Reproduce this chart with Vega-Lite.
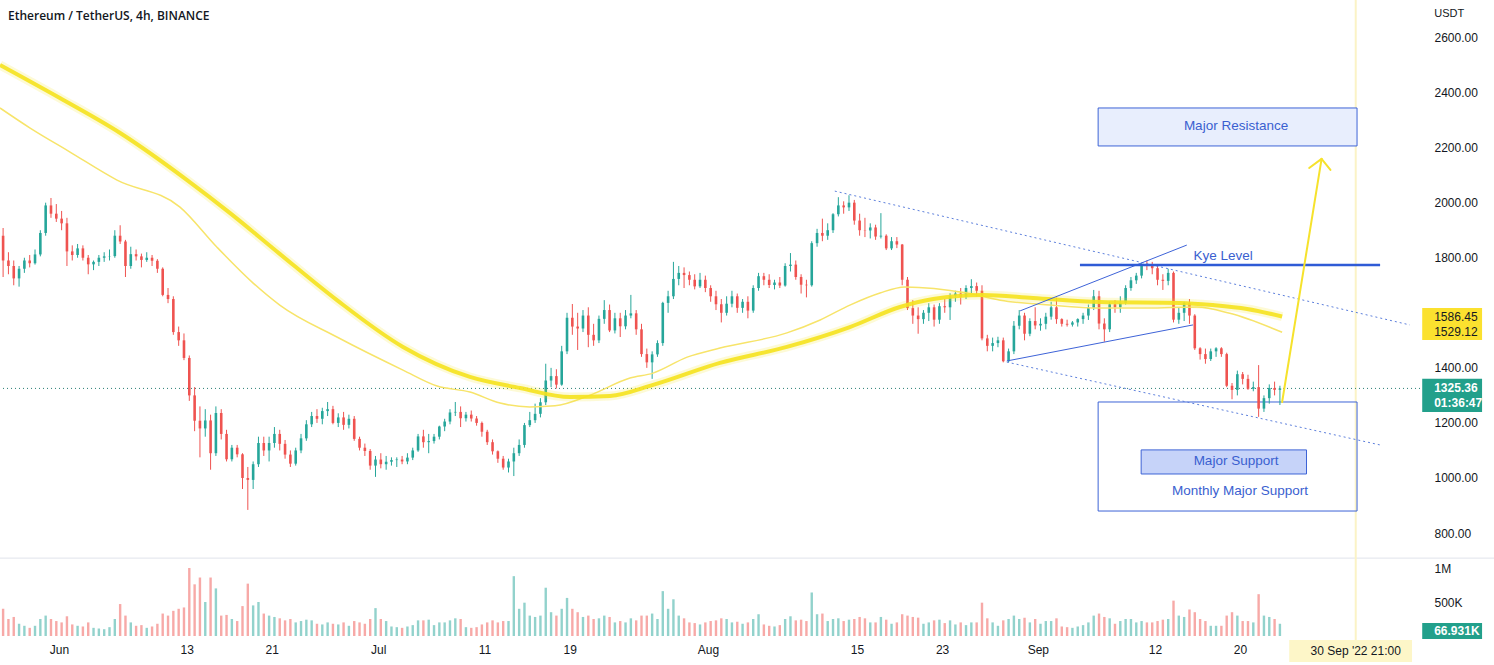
{
"$schema":"https://vega.github.io/schema/vega-lite/v6.json",
"width":1420,"height":640,
"autosize":{"type":"none"},
"padding":{"left":0,"top":0,"right":74,"bottom":25},
"background":"#ffffff",
"config":{"view":{"stroke":null},"font":"Liberation Sans","axis":{"grid":false,"domain":false,"ticks":false}},
"datasets":{
"candles":[
{"t":"2022-05-26T18:00Z","o":1880,"h":1908,"l":1730,"c":1790,"v":400000},
{"t":"2022-05-27T06:00Z","o":1790,"h":1820,"l":1740,"c":1770,"v":250000},
{"t":"2022-05-27T18:00Z","o":1770,"h":1790,"l":1700,"c":1725,"v":280000},
{"t":"2022-05-28T06:00Z","o":1725,"h":1770,"l":1695,"c":1760,"v":180000},
{"t":"2022-05-28T18:00Z","o":1760,"h":1800,"l":1745,"c":1790,"v":150000},
{"t":"2022-05-29T06:00Z","o":1790,"h":1810,"l":1765,"c":1780,"v":120000},
{"t":"2022-05-29T18:00Z","o":1780,"h":1830,"l":1775,"c":1812,"v":150000},
{"t":"2022-05-30T06:00Z","o":1812,"h":1900,"l":1805,"c":1890,"v":250000},
{"t":"2022-05-30T18:00Z","o":1890,"h":2000,"l":1880,"c":1990,"v":300000},
{"t":"2022-05-31T06:00Z","o":1990,"h":2017,"l":1945,"c":1960,"v":250000},
{"t":"2022-05-31T18:00Z","o":1960,"h":1995,"l":1930,"c":1942,"v":220000},
{"t":"2022-06-01T06:00Z","o":1942,"h":1970,"l":1900,"c":1925,"v":200000},
{"t":"2022-06-01T18:00Z","o":1925,"h":1945,"l":1770,"c":1823,"v":290000},
{"t":"2022-06-02T06:00Z","o":1823,"h":1845,"l":1790,"c":1810,"v":170000},
{"t":"2022-06-02T18:00Z","o":1810,"h":1850,"l":1800,"c":1834,"v":150000},
{"t":"2022-06-03T06:00Z","o":1834,"h":1845,"l":1790,"c":1800,"v":140000},
{"t":"2022-06-03T18:00Z","o":1800,"h":1810,"l":1740,"c":1776,"v":200000},
{"t":"2022-06-04T06:00Z","o":1776,"h":1790,"l":1755,"c":1785,"v":120000},
{"t":"2022-06-04T18:00Z","o":1785,"h":1810,"l":1770,"c":1800,"v":110000},
{"t":"2022-06-05T06:00Z","o":1800,"h":1820,"l":1785,"c":1805,"v":100000},
{"t":"2022-06-05T18:00Z","o":1805,"h":1830,"l":1790,"c":1806,"v":130000},
{"t":"2022-06-06T06:00Z","o":1806,"h":1900,"l":1800,"c":1880,"v":250000},
{"t":"2022-06-06T18:00Z","o":1880,"h":1918,"l":1850,"c":1859,"v":470000},
{"t":"2022-06-07T06:00Z","o":1859,"h":1865,"l":1730,"c":1770,"v":300000},
{"t":"2022-06-07T18:00Z","o":1770,"h":1840,"l":1760,"c":1813,"v":200000},
{"t":"2022-06-08T06:00Z","o":1813,"h":1830,"l":1790,"c":1805,"v":150000},
{"t":"2022-06-08T18:00Z","o":1805,"h":1815,"l":1765,"c":1792,"v":160000},
{"t":"2022-06-09T06:00Z","o":1792,"h":1820,"l":1785,"c":1800,"v":120000},
{"t":"2022-06-09T18:00Z","o":1800,"h":1810,"l":1770,"c":1789,"v":140000},
{"t":"2022-06-10T06:00Z","o":1789,"h":1795,"l":1745,"c":1760,"v":180000},
{"t":"2022-06-10T18:00Z","o":1760,"h":1765,"l":1660,"c":1665,"v":330000},
{"t":"2022-06-11T06:00Z","o":1665,"h":1690,"l":1635,"c":1650,"v":300000},
{"t":"2022-06-11T18:00Z","o":1650,"h":1660,"l":1520,"c":1530,"v":370000},
{"t":"2022-06-12T06:00Z","o":1530,"h":1550,"l":1480,"c":1500,"v":400000},
{"t":"2022-06-12T18:00Z","o":1500,"h":1525,"l":1428,"c":1436,"v":420000},
{"t":"2022-06-13T06:00Z","o":1436,"h":1445,"l":1280,"c":1300,"v":1000000},
{"t":"2022-06-13T18:00Z","o":1300,"h":1330,"l":1170,"c":1208,"v":760000},
{"t":"2022-06-14T06:00Z","o":1208,"h":1260,"l":1075,"c":1180,"v":860000},
{"t":"2022-06-14T18:00Z","o":1180,"h":1250,"l":1150,"c":1209,"v":500000},
{"t":"2022-06-15T06:00Z","o":1209,"h":1230,"l":1030,"c":1090,"v":860000},
{"t":"2022-06-15T18:00Z","o":1090,"h":1260,"l":1080,"c":1236,"v":700000},
{"t":"2022-06-16T06:00Z","o":1236,"h":1250,"l":1140,"c":1160,"v":300000},
{"t":"2022-06-16T18:00Z","o":1160,"h":1175,"l":1060,"c":1068,"v":310000},
{"t":"2022-06-17T06:00Z","o":1068,"h":1120,"l":1060,"c":1110,"v":250000},
{"t":"2022-06-17T18:00Z","o":1110,"h":1120,"l":1075,"c":1086,"v":220000},
{"t":"2022-06-18T06:00Z","o":1086,"h":1090,"l":960,"c":1000,"v":440000},
{"t":"2022-06-18T18:00Z","o":1000,"h":1040,"l":884,"c":993,"v":770000},
{"t":"2022-06-19T06:00Z","o":993,"h":1060,"l":960,"c":1050,"v":450000},
{"t":"2022-06-19T18:00Z","o":1050,"h":1150,"l":1040,"c":1127,"v":500000},
{"t":"2022-06-20T06:00Z","o":1127,"h":1150,"l":1080,"c":1100,"v":330000},
{"t":"2022-06-20T18:00Z","o":1100,"h":1150,"l":1060,"c":1127,"v":300000},
{"t":"2022-06-21T06:00Z","o":1127,"h":1185,"l":1110,"c":1160,"v":280000},
{"t":"2022-06-21T18:00Z","o":1160,"h":1175,"l":1100,"c":1124,"v":260000},
{"t":"2022-06-22T06:00Z","o":1124,"h":1138,"l":1070,"c":1085,"v":230000},
{"t":"2022-06-22T18:00Z","o":1085,"h":1100,"l":1040,"c":1052,"v":250000},
{"t":"2022-06-23T06:00Z","o":1052,"h":1110,"l":1045,"c":1100,"v":200000},
{"t":"2022-06-23T18:00Z","o":1100,"h":1160,"l":1090,"c":1144,"v":220000},
{"t":"2022-06-24T06:00Z","o":1144,"h":1210,"l":1135,"c":1195,"v":240000},
{"t":"2022-06-24T18:00Z","o":1195,"h":1240,"l":1185,"c":1225,"v":230000},
{"t":"2022-06-25T06:00Z","o":1225,"h":1250,"l":1200,"c":1215,"v":180000},
{"t":"2022-06-25T18:00Z","o":1215,"h":1255,"l":1195,"c":1243,"v":170000},
{"t":"2022-06-26T06:00Z","o":1243,"h":1276,"l":1225,"c":1250,"v":200000},
{"t":"2022-06-26T18:00Z","o":1250,"h":1262,"l":1195,"c":1200,"v":180000},
{"t":"2022-06-27T06:00Z","o":1200,"h":1235,"l":1185,"c":1220,"v":170000},
{"t":"2022-06-27T18:00Z","o":1220,"h":1240,"l":1175,"c":1193,"v":200000},
{"t":"2022-06-28T06:00Z","o":1193,"h":1230,"l":1180,"c":1215,"v":150000},
{"t":"2022-06-28T18:00Z","o":1215,"h":1225,"l":1135,"c":1142,"v":220000},
{"t":"2022-06-29T06:00Z","o":1142,"h":1150,"l":1100,"c":1110,"v":200000},
{"t":"2022-06-29T18:00Z","o":1110,"h":1125,"l":1080,"c":1098,"v":180000},
{"t":"2022-06-30T06:00Z","o":1098,"h":1105,"l":1030,"c":1045,"v":250000},
{"t":"2022-06-30T18:00Z","o":1045,"h":1080,"l":1004,"c":1067,"v":410000},
{"t":"2022-07-01T06:00Z","o":1067,"h":1090,"l":1035,"c":1050,"v":250000},
{"t":"2022-07-01T18:00Z","o":1050,"h":1080,"l":1030,"c":1059,"v":220000},
{"t":"2022-07-02T06:00Z","o":1059,"h":1075,"l":1045,"c":1065,"v":140000},
{"t":"2022-07-02T18:00Z","o":1065,"h":1075,"l":1040,"c":1067,"v":130000},
{"t":"2022-07-03T06:00Z","o":1067,"h":1080,"l":1050,"c":1060,"v":120000},
{"t":"2022-07-03T18:00Z","o":1060,"h":1090,"l":1050,"c":1074,"v":140000},
{"t":"2022-07-04T06:00Z","o":1074,"h":1110,"l":1065,"c":1100,"v":160000},
{"t":"2022-07-04T18:00Z","o":1100,"h":1160,"l":1095,"c":1151,"v":230000},
{"t":"2022-07-05T06:00Z","o":1151,"h":1175,"l":1110,"c":1130,"v":230000},
{"t":"2022-07-05T18:00Z","o":1130,"h":1160,"l":1090,"c":1134,"v":240000},
{"t":"2022-07-06T06:00Z","o":1134,"h":1160,"l":1125,"c":1150,"v":160000},
{"t":"2022-07-06T18:00Z","o":1150,"h":1190,"l":1140,"c":1187,"v":200000},
{"t":"2022-07-07T06:00Z","o":1187,"h":1215,"l":1170,"c":1205,"v":200000},
{"t":"2022-07-07T18:00Z","o":1205,"h":1250,"l":1195,"c":1238,"v":230000},
{"t":"2022-07-08T06:00Z","o":1238,"h":1276,"l":1225,"c":1240,"v":260000},
{"t":"2022-07-08T18:00Z","o":1240,"h":1260,"l":1185,"c":1217,"v":250000},
{"t":"2022-07-09T06:00Z","o":1217,"h":1240,"l":1205,"c":1230,"v":130000},
{"t":"2022-07-09T18:00Z","o":1230,"h":1245,"l":1205,"c":1216,"v":120000},
{"t":"2022-07-10T06:00Z","o":1216,"h":1225,"l":1190,"c":1200,"v":130000},
{"t":"2022-07-10T18:00Z","o":1200,"h":1205,"l":1150,"c":1168,"v":170000},
{"t":"2022-07-11T06:00Z","o":1168,"h":1175,"l":1120,"c":1130,"v":200000},
{"t":"2022-07-11T18:00Z","o":1130,"h":1140,"l":1085,"c":1097,"v":230000},
{"t":"2022-07-12T06:00Z","o":1097,"h":1100,"l":1055,"c":1070,"v":200000},
{"t":"2022-07-12T18:00Z","o":1070,"h":1080,"l":1030,"c":1038,"v":220000},
{"t":"2022-07-13T06:00Z","o":1038,"h":1070,"l":1020,"c":1060,"v":220000},
{"t":"2022-07-13T18:00Z","o":1060,"h":1110,"l":1007,"c":1090,"v":880000},
{"t":"2022-07-14T06:00Z","o":1090,"h":1140,"l":1080,"c":1120,"v":400000},
{"t":"2022-07-14T18:00Z","o":1120,"h":1200,"l":1110,"c":1192,"v":490000},
{"t":"2022-07-15T06:00Z","o":1192,"h":1240,"l":1185,"c":1210,"v":300000},
{"t":"2022-07-15T18:00Z","o":1210,"h":1270,"l":1200,"c":1233,"v":280000},
{"t":"2022-07-16T06:00Z","o":1233,"h":1290,"l":1220,"c":1275,"v":300000},
{"t":"2022-07-16T18:00Z","o":1275,"h":1415,"l":1265,"c":1354,"v":710000},
{"t":"2022-07-17T06:00Z","o":1354,"h":1400,"l":1330,"c":1370,"v":350000},
{"t":"2022-07-17T18:00Z","o":1370,"h":1395,"l":1325,"c":1339,"v":300000},
{"t":"2022-07-18T06:00Z","o":1339,"h":1480,"l":1335,"c":1460,"v":400000},
{"t":"2022-07-18T18:00Z","o":1460,"h":1600,"l":1450,"c":1582,"v":560000},
{"t":"2022-07-19T06:00Z","o":1582,"h":1632,"l":1520,"c":1550,"v":400000},
{"t":"2022-07-19T18:00Z","o":1550,"h":1600,"l":1465,"c":1543,"v":350000},
{"t":"2022-07-20T06:00Z","o":1543,"h":1610,"l":1530,"c":1590,"v":280000},
{"t":"2022-07-20T18:00Z","o":1590,"h":1620,"l":1475,"c":1520,"v":300000},
{"t":"2022-07-21T06:00Z","o":1520,"h":1560,"l":1480,"c":1500,"v":250000},
{"t":"2022-07-21T18:00Z","o":1500,"h":1590,"l":1490,"c":1578,"v":260000},
{"t":"2022-07-22T06:00Z","o":1578,"h":1646,"l":1560,"c":1610,"v":300000},
{"t":"2022-07-22T18:00Z","o":1610,"h":1630,"l":1530,"c":1536,"v":280000},
{"t":"2022-07-23T06:00Z","o":1536,"h":1600,"l":1525,"c":1580,"v":200000},
{"t":"2022-07-23T18:00Z","o":1580,"h":1600,"l":1512,"c":1551,"v":220000},
{"t":"2022-07-24T06:00Z","o":1551,"h":1610,"l":1540,"c":1590,"v":200000},
{"t":"2022-07-24T18:00Z","o":1590,"h":1665,"l":1580,"c":1598,"v":260000},
{"t":"2022-07-25T06:00Z","o":1598,"h":1610,"l":1520,"c":1540,"v":230000},
{"t":"2022-07-25T18:00Z","o":1540,"h":1560,"l":1440,"c":1450,"v":300000},
{"t":"2022-07-26T06:00Z","o":1450,"h":1470,"l":1400,"c":1420,"v":300000},
{"t":"2022-07-26T18:00Z","o":1420,"h":1460,"l":1360,"c":1449,"v":330000},
{"t":"2022-07-27T06:00Z","o":1449,"h":1500,"l":1440,"c":1490,"v":250000},
{"t":"2022-07-27T18:00Z","o":1490,"h":1640,"l":1480,"c":1636,"v":660000},
{"t":"2022-07-28T06:00Z","o":1636,"h":1680,"l":1600,"c":1660,"v":400000},
{"t":"2022-07-28T18:00Z","o":1660,"h":1785,"l":1650,"c":1723,"v":540000},
{"t":"2022-07-29T06:00Z","o":1723,"h":1770,"l":1700,"c":1745,"v":300000},
{"t":"2022-07-29T18:00Z","o":1745,"h":1765,"l":1690,"c":1737,"v":260000},
{"t":"2022-07-30T06:00Z","o":1737,"h":1750,"l":1700,"c":1720,"v":200000},
{"t":"2022-07-30T18:00Z","o":1720,"h":1740,"l":1685,"c":1696,"v":190000},
{"t":"2022-07-31T06:00Z","o":1696,"h":1745,"l":1690,"c":1720,"v":170000},
{"t":"2022-07-31T18:00Z","o":1720,"h":1735,"l":1675,"c":1690,"v":200000},
{"t":"2022-08-01T06:00Z","o":1690,"h":1700,"l":1640,"c":1660,"v":220000},
{"t":"2022-08-01T18:00Z","o":1660,"h":1680,"l":1610,"c":1631,"v":230000},
{"t":"2022-08-02T06:00Z","o":1631,"h":1650,"l":1565,"c":1600,"v":260000},
{"t":"2022-08-02T18:00Z","o":1600,"h":1660,"l":1590,"c":1633,"v":250000},
{"t":"2022-08-03T06:00Z","o":1633,"h":1680,"l":1620,"c":1660,"v":200000},
{"t":"2022-08-03T18:00Z","o":1660,"h":1670,"l":1600,"c":1618,"v":210000},
{"t":"2022-08-04T06:00Z","o":1618,"h":1650,"l":1600,"c":1640,"v":180000},
{"t":"2022-08-04T18:00Z","o":1640,"h":1660,"l":1580,"c":1608,"v":200000},
{"t":"2022-08-05T06:00Z","o":1608,"h":1700,"l":1600,"c":1690,"v":250000},
{"t":"2022-08-05T18:00Z","o":1690,"h":1745,"l":1680,"c":1733,"v":320000},
{"t":"2022-08-06T06:00Z","o":1733,"h":1745,"l":1700,"c":1720,"v":170000},
{"t":"2022-08-06T18:00Z","o":1720,"h":1740,"l":1690,"c":1701,"v":150000},
{"t":"2022-08-07T06:00Z","o":1701,"h":1720,"l":1685,"c":1710,"v":140000},
{"t":"2022-08-07T18:00Z","o":1710,"h":1730,"l":1690,"c":1699,"v":160000},
{"t":"2022-08-08T06:00Z","o":1699,"h":1780,"l":1695,"c":1770,"v":250000},
{"t":"2022-08-08T18:00Z","o":1770,"h":1817,"l":1750,"c":1775,"v":290000},
{"t":"2022-08-09T06:00Z","o":1775,"h":1790,"l":1720,"c":1730,"v":230000},
{"t":"2022-08-09T18:00Z","o":1730,"h":1740,"l":1670,"c":1702,"v":240000},
{"t":"2022-08-10T06:00Z","o":1702,"h":1720,"l":1656,"c":1700,"v":220000},
{"t":"2022-08-10T18:00Z","o":1700,"h":1860,"l":1695,"c":1853,"v":640000},
{"t":"2022-08-11T06:00Z","o":1853,"h":1905,"l":1840,"c":1890,"v":320000},
{"t":"2022-08-11T18:00Z","o":1890,"h":1942,"l":1860,"c":1880,"v":330000},
{"t":"2022-08-12T06:00Z","o":1880,"h":1925,"l":1865,"c":1900,"v":220000},
{"t":"2022-08-12T18:00Z","o":1900,"h":1962,"l":1890,"c":1958,"v":250000},
{"t":"2022-08-13T06:00Z","o":1958,"h":2020,"l":1950,"c":1990,"v":260000},
{"t":"2022-08-13T18:00Z","o":1990,"h":2005,"l":1960,"c":1983,"v":220000},
{"t":"2022-08-14T06:00Z","o":1983,"h":2027,"l":1970,"c":2000,"v":240000},
{"t":"2022-08-14T18:00Z","o":2000,"h":2010,"l":1920,"c":1935,"v":250000},
{"t":"2022-08-15T06:00Z","o":1935,"h":1960,"l":1880,"c":1900,"v":280000},
{"t":"2022-08-15T18:00Z","o":1900,"h":1945,"l":1875,"c":1899,"v":260000},
{"t":"2022-08-16T06:00Z","o":1899,"h":1925,"l":1870,"c":1910,"v":200000},
{"t":"2022-08-16T18:00Z","o":1910,"h":1920,"l":1865,"c":1877,"v":200000},
{"t":"2022-08-17T06:00Z","o":1877,"h":1962,"l":1870,"c":1880,"v":280000},
{"t":"2022-08-17T18:00Z","o":1880,"h":1885,"l":1828,"c":1834,"v":240000},
{"t":"2022-08-18T06:00Z","o":1834,"h":1875,"l":1828,"c":1860,"v":180000},
{"t":"2022-08-18T18:00Z","o":1860,"h":1875,"l":1835,"c":1848,"v":200000},
{"t":"2022-08-19T06:00Z","o":1848,"h":1850,"l":1700,"c":1720,"v":320000},
{"t":"2022-08-19T18:00Z","o":1720,"h":1730,"l":1610,"c":1617,"v":300000},
{"t":"2022-08-20T06:00Z","o":1617,"h":1646,"l":1560,"c":1590,"v":280000},
{"t":"2022-08-20T18:00Z","o":1590,"h":1620,"l":1524,"c":1577,"v":270000},
{"t":"2022-08-21T06:00Z","o":1577,"h":1610,"l":1560,"c":1600,"v":180000},
{"t":"2022-08-21T18:00Z","o":1600,"h":1635,"l":1570,"c":1620,"v":200000},
{"t":"2022-08-22T06:00Z","o":1620,"h":1630,"l":1550,"c":1575,"v":230000},
{"t":"2022-08-22T18:00Z","o":1575,"h":1635,"l":1560,"c":1624,"v":240000},
{"t":"2022-08-23T06:00Z","o":1624,"h":1650,"l":1600,"c":1620,"v":190000},
{"t":"2022-08-23T18:00Z","o":1620,"h":1671,"l":1574,"c":1662,"v":230000},
{"t":"2022-08-24T06:00Z","o":1662,"h":1680,"l":1640,"c":1670,"v":170000},
{"t":"2022-08-24T18:00Z","o":1670,"h":1690,"l":1630,"c":1658,"v":200000},
{"t":"2022-08-25T06:00Z","o":1658,"h":1700,"l":1650,"c":1690,"v":160000},
{"t":"2022-08-25T18:00Z","o":1690,"h":1722,"l":1670,"c":1697,"v":200000},
{"t":"2022-08-26T06:00Z","o":1697,"h":1710,"l":1660,"c":1680,"v":200000},
{"t":"2022-08-26T18:00Z","o":1680,"h":1700,"l":1500,"c":1507,"v":490000},
{"t":"2022-08-27T06:00Z","o":1507,"h":1520,"l":1460,"c":1480,"v":260000},
{"t":"2022-08-27T18:00Z","o":1480,"h":1510,"l":1460,"c":1490,"v":200000},
{"t":"2022-08-28T06:00Z","o":1490,"h":1513,"l":1475,"c":1500,"v":150000},
{"t":"2022-08-28T18:00Z","o":1500,"h":1510,"l":1420,"c":1424,"v":230000},
{"t":"2022-08-29T06:00Z","o":1424,"h":1470,"l":1420,"c":1460,"v":250000},
{"t":"2022-08-29T18:00Z","o":1460,"h":1570,"l":1450,"c":1553,"v":300000},
{"t":"2022-08-30T06:00Z","o":1553,"h":1610,"l":1540,"c":1590,"v":250000},
{"t":"2022-08-30T18:00Z","o":1590,"h":1600,"l":1500,"c":1524,"v":270000},
{"t":"2022-08-31T06:00Z","o":1524,"h":1580,"l":1515,"c":1570,"v":200000},
{"t":"2022-08-31T18:00Z","o":1570,"h":1620,"l":1540,"c":1554,"v":250000},
{"t":"2022-09-01T06:00Z","o":1554,"h":1580,"l":1535,"c":1560,"v":180000},
{"t":"2022-09-01T18:00Z","o":1560,"h":1600,"l":1540,"c":1586,"v":220000},
{"t":"2022-09-02T06:00Z","o":1586,"h":1640,"l":1575,"c":1620,"v":220000},
{"t":"2022-09-02T18:00Z","o":1620,"h":1655,"l":1560,"c":1577,"v":260000},
{"t":"2022-09-03T06:00Z","o":1577,"h":1580,"l":1550,"c":1560,"v":140000},
{"t":"2022-09-03T18:00Z","o":1560,"h":1575,"l":1550,"c":1557,"v":130000},
{"t":"2022-09-04T06:00Z","o":1557,"h":1570,"l":1550,"c":1565,"v":120000},
{"t":"2022-09-04T18:00Z","o":1565,"h":1580,"l":1550,"c":1577,"v":140000},
{"t":"2022-09-05T06:00Z","o":1577,"h":1600,"l":1560,"c":1590,"v":160000},
{"t":"2022-09-05T18:00Z","o":1590,"h":1630,"l":1574,"c":1618,"v":200000},
{"t":"2022-09-06T06:00Z","o":1618,"h":1683,"l":1610,"c":1660,"v":300000},
{"t":"2022-09-06T18:00Z","o":1660,"h":1680,"l":1540,"c":1561,"v":330000},
{"t":"2022-09-07T06:00Z","o":1561,"h":1580,"l":1495,"c":1540,"v":280000},
{"t":"2022-09-07T18:00Z","o":1540,"h":1640,"l":1530,"c":1631,"v":260000},
{"t":"2022-09-08T06:00Z","o":1631,"h":1646,"l":1600,"c":1620,"v":180000},
{"t":"2022-09-08T18:00Z","o":1620,"h":1660,"l":1600,"c":1636,"v":220000},
{"t":"2022-09-09T06:00Z","o":1636,"h":1700,"l":1630,"c":1690,"v":250000},
{"t":"2022-09-09T18:00Z","o":1690,"h":1730,"l":1680,"c":1718,"v":250000},
{"t":"2022-09-10T06:00Z","o":1718,"h":1745,"l":1705,"c":1735,"v":200000},
{"t":"2022-09-10T18:00Z","o":1735,"h":1780,"l":1725,"c":1777,"v":220000},
{"t":"2022-09-11T06:00Z","o":1777,"h":1790,"l":1755,"c":1770,"v":200000},
{"t":"2022-09-11T18:00Z","o":1770,"h":1785,"l":1740,"c":1762,"v":200000},
{"t":"2022-09-12T06:00Z","o":1762,"h":1770,"l":1700,"c":1720,"v":220000},
{"t":"2022-09-12T18:00Z","o":1720,"h":1740,"l":1683,"c":1716,"v":240000},
{"t":"2022-09-13T06:00Z","o":1716,"h":1760,"l":1700,"c":1745,"v":250000},
{"t":"2022-09-13T18:00Z","o":1745,"h":1750,"l":1565,"c":1575,"v":520000},
{"t":"2022-09-14T06:00Z","o":1575,"h":1620,"l":1560,"c":1600,"v":300000},
{"t":"2022-09-14T18:00Z","o":1600,"h":1640,"l":1570,"c":1636,"v":280000},
{"t":"2022-09-15T06:00Z","o":1636,"h":1650,"l":1560,"c":1590,"v":390000},
{"t":"2022-09-15T18:00Z","o":1590,"h":1595,"l":1465,"c":1471,"v":350000},
{"t":"2022-09-16T06:00Z","o":1471,"h":1475,"l":1430,"c":1450,"v":250000},
{"t":"2022-09-16T18:00Z","o":1450,"h":1470,"l":1415,"c":1432,"v":220000},
{"t":"2022-09-17T06:00Z","o":1432,"h":1470,"l":1425,"c":1460,"v":150000},
{"t":"2022-09-17T18:00Z","o":1460,"h":1475,"l":1440,"c":1471,"v":150000},
{"t":"2022-09-18T06:00Z","o":1471,"h":1475,"l":1440,"c":1450,"v":150000},
{"t":"2022-09-18T18:00Z","o":1450,"h":1455,"l":1330,"c":1335,"v":300000},
{"t":"2022-09-19T06:00Z","o":1335,"h":1345,"l":1286,"c":1320,"v":350000},
{"t":"2022-09-19T18:00Z","o":1320,"h":1390,"l":1300,"c":1377,"v":300000},
{"t":"2022-09-20T06:00Z","o":1377,"h":1385,"l":1340,"c":1360,"v":220000},
{"t":"2022-09-20T18:00Z","o":1360,"h":1375,"l":1320,"c":1324,"v":220000},
{"t":"2022-09-21T06:00Z","o":1324,"h":1350,"l":1315,"c":1330,"v":200000},
{"t":"2022-09-21T18:00Z","o":1330,"h":1410,"l":1222,"c":1252,"v":615000},
{"t":"2022-09-22T06:00Z","o":1252,"h":1300,"l":1240,"c":1290,"v":300000},
{"t":"2022-09-22T18:00Z","o":1290,"h":1340,"l":1270,"c":1327,"v":280000},
{"t":"2022-09-23T06:00Z","o":1327,"h":1350,"l":1300,"c":1320,"v":250000},
{"t":"2022-09-23T18:00Z","o":1320,"h":1335,"l":1265,"c":1325.36,"v":180000}
],
"ma":[
{"s":"MA 1","t":"2022-05-26T11:00Z","p":2500},
{"s":"MA 1","t":"2022-06-01T02:00Z","p":2380},
{"s":"MA 1","t":"2022-06-06T18:00Z","p":2253},
{"s":"MA 1","t":"2022-06-13T01:00Z","p":2082},
{"s":"MA 1","t":"2022-06-17T02:00Z","p":1962},
{"s":"MA 1","t":"2022-06-21T18:00Z","p":1814},
{"s":"MA 1","t":"2022-06-27T03:00Z","p":1646},
{"s":"MA 1","t":"2022-07-03T08:00Z","p":1476},
{"s":"MA 1","t":"2022-07-09T15:00Z","p":1367},
{"s":"MA 1","t":"2022-07-14T08:00Z","p":1327},
{"s":"MA 1","t":"2022-07-19T01:00Z","p":1294},
{"s":"MA 1","t":"2022-07-22T19:00Z","p":1298},
{"s":"MA 1","t":"2022-07-26T20:00Z","p":1338},
{"s":"MA 1","t":"2022-08-02T03:00Z","p":1418},
{"s":"MA 1","t":"2022-08-08T10:00Z","p":1476},
{"s":"MA 1","t":"2022-08-14T08:00Z","p":1548},
{"s":"MA 1","t":"2022-08-19T01:00Z","p":1621},
{"s":"MA 1","t":"2022-08-22T04:00Z","p":1650},
{"s":"MA 1","t":"2022-08-26T20:00Z","p":1665},
{"s":"MA 1","t":"2022-08-31T13:00Z","p":1654},
{"s":"MA 1","t":"2022-09-06T20:00Z","p":1639},
{"s":"MA 1","t":"2022-09-14T09:00Z","p":1636},
{"s":"MA 1","t":"2022-09-17T11:00Z","p":1628},
{"s":"MA 1","t":"2022-09-20T16:00Z","p":1614},
{"s":"MA 1","t":"2022-09-23T23:00Z","p":1586.45},
{"s":"MA 2","t":"2022-05-26T11:00Z","p":2344},
{"s":"MA 2","t":"2022-05-29T07:00Z","p":2271},
{"s":"MA 2","t":"2022-06-02T01:00Z","p":2184},
{"s":"MA 2","t":"2022-06-06T11:00Z","p":2082},
{"s":"MA 2","t":"2022-06-12T09:00Z","p":1984},
{"s":"MA 2","t":"2022-06-15T20:00Z","p":1839},
{"s":"MA 2","t":"2022-06-19T06:00Z","p":1708},
{"s":"MA 2","t":"2022-06-21T18:00Z","p":1628},
{"s":"MA 2","t":"2022-06-27T03:00Z","p":1512},
{"s":"MA 2","t":"2022-07-03T08:00Z","p":1392},
{"s":"MA 2","t":"2022-07-06T13:00Z","p":1334},
{"s":"MA 2","t":"2022-07-09T15:00Z","p":1312},
{"s":"MA 2","t":"2022-07-12T11:00Z","p":1272},
{"s":"MA 2","t":"2022-07-15T06:00Z","p":1258},
{"s":"MA 2","t":"2022-07-17T15:00Z","p":1262},
{"s":"MA 2","t":"2022-07-20T22:00Z","p":1301},
{"s":"MA 2","t":"2022-07-24T16:00Z","p":1363},
{"s":"MA 2","t":"2022-07-26T20:00Z","p":1381},
{"s":"MA 2","t":"2022-07-30T01:00Z","p":1439},
{"s":"MA 2","t":"2022-08-02T03:00Z","p":1472},
{"s":"MA 2","t":"2022-08-08T10:00Z","p":1527},
{"s":"MA 2","t":"2022-08-11T13:00Z","p":1574},
{"s":"MA 2","t":"2022-08-14T08:00Z","p":1628},
{"s":"MA 2","t":"2022-08-17T04:00Z","p":1672},
{"s":"MA 2","t":"2022-08-19T12:00Z","p":1694},
{"s":"MA 2","t":"2022-08-25T08:00Z","p":1672},
{"s":"MA 2","t":"2022-08-28T11:00Z","p":1646},
{"s":"MA 2","t":"2022-09-02T03:00Z","p":1628},
{"s":"MA 2","t":"2022-09-06T20:00Z","p":1617},
{"s":"MA 2","t":"2022-09-11T06:00Z","p":1617},
{"s":"MA 2","t":"2022-09-15T23:00Z","p":1621},
{"s":"MA 2","t":"2022-09-19T01:00Z","p":1598},
{"s":"MA 2","t":"2022-09-23T23:00Z","p":1529.12}
],
"segs":[
{"k":"sep","t":"2022-05-26T11:00Z","p":709,"t2":"2022-10-13T22:00Z","p2":709},
{"k":"trend","t":"2022-08-12T22:00Z","p":2042,"t2":"2022-10-05T23:00Z","p2":1556},
{"k":"trend","t":"2022-08-29T02:00Z","p":1421,"t2":"2022-10-03T04:00Z","p2":1120},
{"k":"wedge","t":"2022-08-30T08:00Z","p":1607,"t2":"2022-09-15T00:00Z","p2":1846},
{"k":"wedge","t":"2022-08-29T02:00Z","p":1425,"t2":"2022-09-15T14:00Z","p2":1556},
{"k":"kye","t":"2022-09-04T23:00Z","p":1774,"t2":"2022-10-03T04:00Z","p2":1774},
{"k":"arrow","t":"2022-09-23T23:00Z","p":1276,"t2":"2022-09-27T16:00Z","p2":2159},
{"k":"arrow","t":"2022-09-26T12:00Z","p":2126,"t2":"2022-09-27T16:00Z","p2":2159},
{"k":"arrow","t":"2022-09-27T16:00Z","p":2159,"t2":"2022-09-28T12:00Z","p2":2119}
],
"boxes":[
{"k":"res","t":"2022-09-06T16:00Z","t2":"2022-10-01T00:00Z","p":2344,"p2":2206},
{"k":"sup","t":"2022-09-06T16:00Z","t2":"2022-10-01T00:00Z","p":1276,"p2":880},
{"k":"major","t":"2022-09-10T17:00Z","t2":"2022-09-26T06:00Z","p":1102,"p2":1014.5},
{"k":"tagma","t":"2022-10-07T03:00Z","t2":"2022-10-12T18:00Z","p":1617,"p2":1501},
{"k":"taglast","t":"2022-10-07T03:00Z","t2":"2022-10-12T18:00Z","p":1360,"p2":1240}
],
"notes":[
{"k":"title","t":"2022-05-27T05:00Z","p":2678,"txt":"Ethereum / TetherUS, 4h, BINANCE"},
{"k":"draw","t":"2022-09-18T10:00Z","p":1806,"txt":"Kye Level"},
{"k":"draw","t":"2022-09-19T15:00Z","p":2278,"txt":"Major Resistance"},
{"k":"draw","t":"2022-09-19T15:00Z","p":1062,"txt":"Major Support"},
{"k":"draw","t":"2022-09-20T00:00Z","p":953,"txt":"Monthly Major Support"},
{"k":"unit","t":"2022-10-08T06:00Z","p":2685,"txt":"USDT"},
{"k":"tagma","t":"2022-10-08T06:00Z","p":1586.45,"txt":"1586.45"},
{"k":"tagma","t":"2022-10-08T06:00Z","p":1529.12,"txt":"1529.12"},
{"k":"taglast","t":"2022-10-08T06:00Z","p":1325.36,"txt":"1325.36"},
{"k":"taglast","t":"2022-10-08T06:00Z","p":1272,"txt":"01:36:47"}
],
"last":[{"p":1325.36}],
"marker":[{"t":"2022-09-30T21:00Z"}],
"vtags":[
{"k":"vol","t":"2022-10-07T03:00Z","t2":"2022-10-12T18:00Z","v":191000,"v2":-44000,"tt":"2022-10-08T06:00Z","vt":66931,"txt":"66.931K"},
{"k":"date","t":"2022-09-24T15:00Z","t2":"2022-10-06T04:00Z","v":-58800,"v2":-382000,"tt":"2022-09-30T21:00Z","vt":-220000,"txt":"30 Sep '22 21:00"}
]
},
"layer":[
{"layer":[
{"data":{"name":"segs"},"transform":[{"filter":"datum.k=='sep'"}],
 "mark":{"type":"rule","color":"#e0e3eb","strokeWidth":1},
 "encoding":{
  "x":{"field":"t","type":"temporal","title":null,
   "scale":{"type":"utc","padding":0,"nice":false,"domain":[{"year":2022,"month":5,"date":26,"hours":11,"utc":true},{"year":2022,"month":10,"date":6,"hours":22,"utc":true}]},
   "axis":{"values":[
    {"year":2022,"month":6,"date":1,"utc":true},{"year":2022,"month":6,"date":13,"utc":true},{"year":2022,"month":6,"date":21,"utc":true},
    {"year":2022,"month":7,"date":1,"utc":true},{"year":2022,"month":7,"date":11,"utc":true},{"year":2022,"month":7,"date":19,"utc":true},
    {"year":2022,"month":8,"date":1,"utc":true},{"year":2022,"month":8,"date":15,"utc":true},{"year":2022,"month":8,"date":23,"utc":true},
    {"year":2022,"month":9,"date":1,"utc":true},{"year":2022,"month":9,"date":12,"utc":true},{"year":2022,"month":9,"date":20,"utc":true}],
    "labelExpr":"utcdate(datum.value) == 1 ? utcFormat(datum.value, '%b') : utcFormat(datum.value, '%-d')",
    "labelPadding":4,"labelFontSize":12,"labelColor":"#131722","labelFlush":false,"labelOverlap":false,"zindex":1}},
  "x2":{"field":"t2"},
  "y":{"field":"p","type":"quantitative","title":null,
   "scale":{"domain":[411.5,2736.2],"nice":false,"zero":false},
   "axis":{"orient":"right","values":[800,1000,1200,1400,1800,2000,2200,2400,2600],"format":".2f","labelAlign":"left","labelPadding":14,"labelFontSize":12,"labelColor":"#131722","zindex":1}},
  "y2":{"field":"p2"}}},
{"data":{"name":"marker"},"mark":{"type":"rule","color":"#fbf3c6","strokeWidth":2},
 "encoding":{"x":{"field":"t","type":"temporal"}}},
{"data":{"name":"boxes"},"transform":[{"filter":"datum.k=='res'"}],
 "mark":{"type":"rect","fill":"#e8eefd","stroke":"#3d63d6","strokeWidth":1},
 "encoding":{"x":{"field":"t","type":"temporal"},"x2":{"field":"t2"},"y":{"field":"p","type":"quantitative"},"y2":{"field":"p2"}}},
{"data":{"name":"boxes"},"transform":[{"filter":"datum.k=='sup'"}],
 "mark":{"type":"rect","fill":"#ffffff","fillOpacity":0,"stroke":"#3d63d6","strokeWidth":1},
 "encoding":{"x":{"field":"t","type":"temporal"},"x2":{"field":"t2"},"y":{"field":"p","type":"quantitative"},"y2":{"field":"p2"}}},
{"data":{"name":"boxes"},"transform":[{"filter":"datum.k=='major'"}],
 "mark":{"type":"rect","fill":"#c6d3f9","stroke":"#3d63d6","strokeWidth":1},
 "encoding":{"x":{"field":"t","type":"temporal"},"x2":{"field":"t2"},"y":{"field":"p","type":"quantitative"},"y2":{"field":"p2"}}},
{"data":{"name":"last"},"mark":{"type":"rule","color":"#2a7f75","strokeWidth":1,"strokeDash":[1,3]},
 "encoding":{"y":{"field":"p","type":"quantitative"}}},
{"data":{"name":"candles"},"mark":{"type":"rule","strokeWidth":1},
 "encoding":{"x":{"field":"t","type":"temporal"},"y":{"field":"l","type":"quantitative"},"y2":{"field":"h"},
  "color":{"condition":{"test":"datum.c >= datum.o","value":"#26a69a"},"value":"#ef5350"}}},
{"data":{"name":"candles"},"mark":{"type":"bar","size":2.6},
 "encoding":{"x":{"field":"t","type":"temporal"},"y":{"field":"o","type":"quantitative"},"y2":{"field":"c"},
  "color":{"condition":{"test":"datum.c >= datum.o","value":"#26a69a"},"value":"#ef5350"}}},
{"data":{"name":"ma"},"transform":[{"filter":"datum.s=='MA 2'"}],
 "mark":{"type":"line","color":"#f7e46a","strokeWidth":1.5,"interpolate":"monotone"},
 "encoding":{"x":{"field":"t","type":"temporal"},"y":{"field":"p","type":"quantitative"}}},
{"data":{"name":"ma"},"transform":[{"filter":"datum.s=='MA 1'"}],
 "mark":{"type":"line","color":"#f5e21e","strokeWidth":9,"opacity":0.18,"interpolate":"monotone"},
 "encoding":{"x":{"field":"t","type":"temporal"},"y":{"field":"p","type":"quantitative"}}},
{"data":{"name":"ma"},"transform":[{"filter":"datum.s=='MA 1'"}],
 "mark":{"type":"line","color":"#f5e21e","strokeWidth":4,"opacity":0.9,"interpolate":"monotone"},
 "encoding":{"x":{"field":"t","type":"temporal"},"y":{"field":"p","type":"quantitative"}}},
{"data":{"name":"segs"},"transform":[{"filter":"datum.k=='trend'"}],
 "mark":{"type":"rule","color":"#5d7fdc","strokeWidth":1,"strokeDash":[2,3]},
 "encoding":{"x":{"field":"t","type":"temporal"},"x2":{"field":"t2"},"y":{"field":"p","type":"quantitative"},"y2":{"field":"p2"}}},
{"data":{"name":"segs"},"transform":[{"filter":"datum.k=='wedge'"}],
 "mark":{"type":"rule","color":"#3e63d8","strokeWidth":1},
 "encoding":{"x":{"field":"t","type":"temporal"},"x2":{"field":"t2"},"y":{"field":"p","type":"quantitative"},"y2":{"field":"p2"}}},
{"data":{"name":"segs"},"transform":[{"filter":"datum.k=='kye'"}],
 "mark":{"type":"rule","color":"#2f5bd6","strokeWidth":2.5},
 "encoding":{"x":{"field":"t","type":"temporal"},"x2":{"field":"t2"},"y":{"field":"p","type":"quantitative"},"y2":{"field":"p2"}}},
{"data":{"name":"segs"},"transform":[{"filter":"datum.k=='arrow'"}],
 "mark":{"type":"rule","color":"#f6e22c","strokeWidth":2,"strokeCap":"round"},
 "encoding":{"x":{"field":"t","type":"temporal"},"x2":{"field":"t2"},"y":{"field":"p","type":"quantitative"},"y2":{"field":"p2"}}},
{"data":{"name":"notes"},"transform":[{"filter":"datum.k=='title'"}],
 "mark":{"type":"text","align":"left","baseline":"middle","fontSize":12,"fontWeight":600,"font":"Open Sans","color":"#131722"},
 "encoding":{"x":{"field":"t","type":"temporal"},"y":{"field":"p","type":"quantitative"},"text":{"field":"txt"}}},
{"data":{"name":"notes"},"transform":[{"filter":"datum.k=='draw'"}],
 "mark":{"type":"text","align":"center","baseline":"middle","fontSize":13.5,"color":"#3a5fd0"},
 "encoding":{"x":{"field":"t","type":"temporal"},"y":{"field":"p","type":"quantitative"},"text":{"field":"txt"}}},
{"data":{"name":"notes"},"transform":[{"filter":"datum.k=='unit'"}],
 "mark":{"type":"text","align":"left","baseline":"middle","fontSize":11,"color":"#131722"},
 "encoding":{"x":{"field":"t","type":"temporal"},"y":{"field":"p","type":"quantitative"},"text":{"field":"txt"}}},
{"data":{"name":"boxes"},"transform":[{"filter":"datum.k=='tagma'"}],
 "mark":{"type":"rect","fill":"#fbe12f"},
 "encoding":{"x":{"field":"t","type":"temporal"},"x2":{"field":"t2"},"y":{"field":"p","type":"quantitative"},"y2":{"field":"p2"}}},
{"data":{"name":"boxes"},"transform":[{"filter":"datum.k=='taglast'"}],
 "mark":{"type":"rect","fill":"#22a08b"},
 "encoding":{"x":{"field":"t","type":"temporal"},"x2":{"field":"t2"},"y":{"field":"p","type":"quantitative"},"y2":{"field":"p2"}}},
{"data":{"name":"notes"},"transform":[{"filter":"datum.k=='tagma'"}],
 "mark":{"type":"text","align":"left","baseline":"middle","fontSize":12,"color":"#131722"},
 "encoding":{"x":{"field":"t","type":"temporal"},"y":{"field":"p","type":"quantitative"},"text":{"field":"txt"}}},
{"data":{"name":"notes"},"transform":[{"filter":"datum.k=='taglast'"}],
 "mark":{"type":"text","align":"left","baseline":"middle","fontSize":12,"fontWeight":"bold","color":"#ffffff"},
 "encoding":{"x":{"field":"t","type":"temporal"},"y":{"field":"p","type":"quantitative"},"text":{"field":"txt"}}}
]},
{"layer":[
{"data":{"name":"candles"},"mark":{"type":"bar","size":2.4,"opacity":0.5},
 "encoding":{"x":{"field":"t","type":"temporal"},
  "y":{"field":"v","type":"quantitative","title":null,"scale":{"domain":[-58800,9353000],"nice":false,"zero":false},
   "axis":{"orient":"right","values":[500000,1000000],"labelExpr":"datum.value >= 1000000 ? '1M' : '500K'","labelAlign":"left","labelPadding":14,"labelFontSize":12,"labelColor":"#131722","zindex":1}},
  "y2":{"datum":0},
  "color":{"condition":{"test":"datum.c >= datum.o","value":"#26a69a"},"value":"#ef5350"}}},
{"data":{"name":"vtags"},"transform":[{"filter":"datum.k=='vol'"}],
 "mark":{"type":"rect","fill":"#22a08b"},
 "encoding":{"x":{"field":"t","type":"temporal"},"x2":{"field":"t2"},"y":{"field":"v","type":"quantitative"},"y2":{"field":"v2"}}},
{"data":{"name":"vtags"},"transform":[{"filter":"datum.k=='date'"}],
 "mark":{"type":"rect","fill":"#fdf6c8"},
 "encoding":{"x":{"field":"t","type":"temporal"},"x2":{"field":"t2"},"y":{"field":"v","type":"quantitative"},"y2":{"field":"v2"}}},
{"data":{"name":"vtags"},"transform":[{"filter":"datum.k=='vol'"}],
 "mark":{"type":"text","align":"left","baseline":"middle","fontSize":12,"fontWeight":"bold","color":"#ffffff"},
 "encoding":{"x":{"field":"tt","type":"temporal"},"y":{"field":"vt","type":"quantitative"},"text":{"field":"txt"}}},
{"data":{"name":"vtags"},"transform":[{"filter":"datum.k=='date'"}],
 "mark":{"type":"text","align":"center","baseline":"middle","fontSize":12,"color":"#131722"},
 "encoding":{"x":{"field":"tt","type":"temporal"},"y":{"field":"vt","type":"quantitative"},"text":{"field":"txt"}}}
]}
],
"resolve":{"scale":{"y":"independent"},"axis":{"y":"independent"}}
}
